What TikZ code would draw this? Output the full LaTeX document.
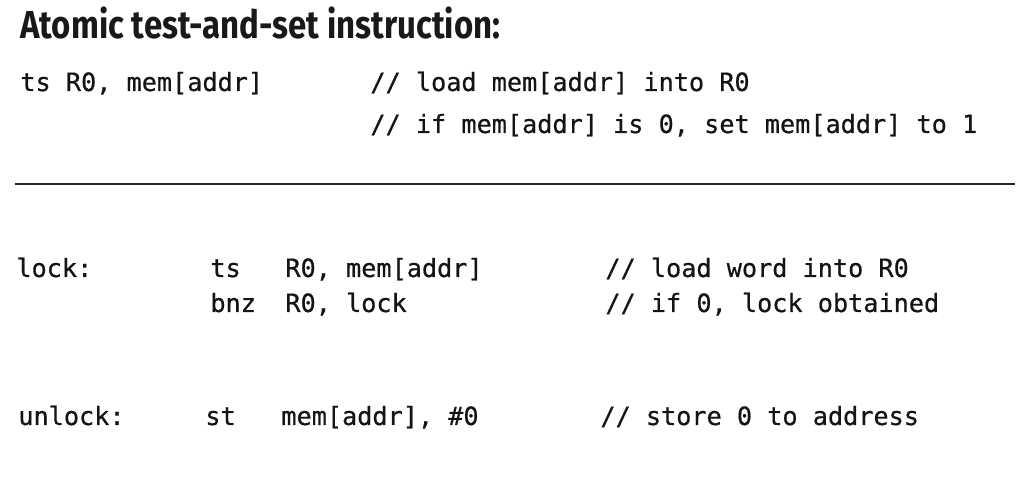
\documentclass[tikz,border=0pt]{standalone}
\usepackage{fontspec}
\setmonofont[FakeBold=0.6]{DejaVu Sans Mono}
\newfontfamily\titlefont[FakeStretch=0.845]{Fira Sans}
\usepackage{tikz}

\tikzset{
  code/.style={anchor=base west, inner sep=0pt, text=black!92, font=\ttfamily\fontsize{12.6}{14}\selectfont},
  heading/.style={anchor=base west, inner sep=0pt, text=black!90, font=\titlefont\bfseries\fontsize{19.5}{22}\selectfont}
}

\begin{document}
\begin{tikzpicture}[x=0.5pt, y=-0.5pt]
                \useasboundingbox (0,0) rectangle (1026,490);

                % Title
                \node[heading] (title) at (20, 39) {Atomic test-and-set instruction:};

                % Instruction definition
                \node[code] (tsdef) at (20, 91) {ts R0, mem[addr]};
                \node[code] (tscom1) at (370, 91) {// load mem[addr] into R0};
                \node[code] (tscom2) at (370, 133) {// if mem[addr] is 0, set mem[addr] to 1};

                % Separator
                \coordinate (sepl) at (15, 184);
                \coordinate (sepr) at (1015, 184);
                \draw[line width=1.25pt, black!85] (sepl) -- (sepr);

                % Lock
                \node[code] (locklbl) at (16, 277) {lock:};
                \node[code] (tsop) at (210, 277) {ts};
                \node[code] (tsarg) at (285, 277) {R0, mem[addr]};
                \node[code] (tscom) at (605, 277) {// load word into R0};
                \node[code] (bnzop) at (210, 312) {bnz};
                \node[code] (bnzarg) at (285, 312) {R0, lock};
                \node[code] (bnzcom) at (605, 312) {// if 0, lock obtained};

                % Unlock
                \node[code] (unlocklbl) at (18, 425) {unlock:};
                \node[code] (stop) at (205, 425) {st};
                \node[code] (starg) at (281, 425) {mem[addr], \#0};
                \node[code] (stcom) at (600, 425) {// store 0 to address};
            \end{tikzpicture}
\end{document}
